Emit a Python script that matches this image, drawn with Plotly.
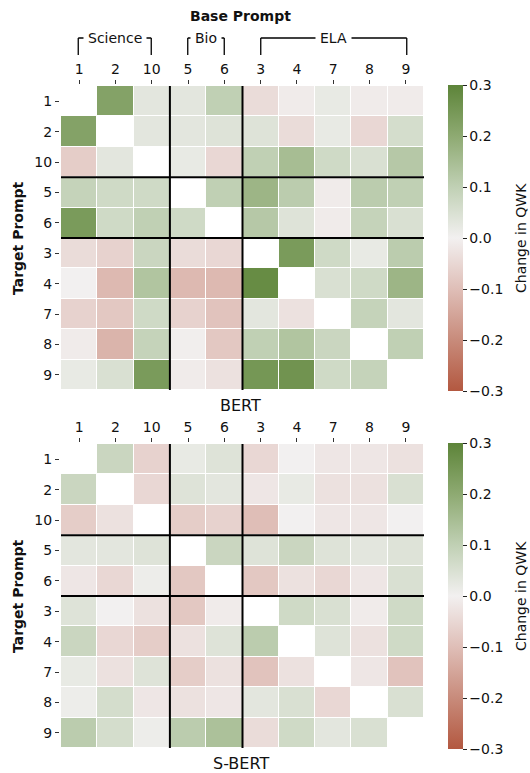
import plotly.graph_objects as go
import numpy as np

W, H = 530, 773
prompts = ["1", "2", "10", "5", "6", "3", "4", "7", "8", "9"]
groups = [("Science", "1", "10"), ("Bio", "5", "6"), ("ELA", "3", "9")]
group_breaks = [3, 5]  # index where new group starts

nan = None
bert = [
    [nan, 0.22, 0.03, 0.03, 0.10, -0.04, -0.01, 0.02, -0.01, -0.01],
    [0.22, nan, 0.03, 0.03, 0.04, 0.04, -0.04, 0.02, -0.05, 0.06],
    [-0.07, 0.03, nan, 0.02, -0.05, 0.10, 0.15, 0.07, 0.05, 0.12],
    [0.09, 0.07, 0.07, nan, 0.10, 0.17, 0.11, -0.01, 0.11, 0.10],
    [0.24, 0.07, 0.10, 0.07, nan, 0.12, 0.04, -0.01, 0.09, 0.05],
    [-0.04, -0.06, 0.08, -0.04, -0.05, nan, 0.24, 0.07, 0.02, 0.11],
    [0.00, -0.11, 0.13, -0.11, -0.11, 0.28, nan, 0.05, 0.07, 0.17],
    [-0.06, -0.08, 0.07, -0.06, -0.09, 0.03, -0.03, nan, 0.09, 0.03],
    [-0.01, -0.12, 0.09, -0.005, -0.08, 0.10, 0.13, 0.08, nan, 0.10],
    [0.02, 0.05, 0.24, -0.01, -0.03, 0.25, 0.26, 0.07, 0.09, nan],
]
sbert = [
    [nan, 0.08, -0.06, 0.02, 0.04, -0.05, 0.00, -0.02, -0.02, -0.03],
    [0.08, nan, -0.05, 0.04, 0.03, -0.02, 0.02, -0.03, -0.03, 0.05],
    [-0.07, -0.03, nan, -0.07, -0.06, -0.10, 0.00, -0.02, -0.02, 0.00],
    [0.03, 0.03, 0.04, nan, 0.08, 0.04, 0.08, 0.04, 0.03, 0.04],
    [-0.02, -0.05, 0.01, -0.08, nan, -0.08, -0.03, -0.05, -0.02, 0.05],
    [0.04, 0.00, -0.03, -0.08, -0.01, nan, 0.07, 0.05, -0.01, 0.07],
    [0.08, -0.05, -0.07, -0.03, 0.04, 0.11, nan, 0.04, -0.03, 0.07],
    [0.02, -0.03, 0.04, -0.07, -0.03, -0.09, -0.03, nan, -0.02, -0.09],
    [0.01, 0.06, -0.02, -0.03, -0.02, 0.03, 0.05, -0.05, nan, 0.05],
    [0.11, 0.06, 0.01, 0.11, 0.14, -0.04, 0.07, 0.03, 0.05, nan],
]
cbar_ticks = [0.3, 0.2, 0.1, 0.0, -0.1, -0.2, -0.3]

colorscale = [
    [0.0, "rgb(179,88,64)"],
    [0.167, "rgb(200,139,123)"],
    [0.333, "rgb(223,190,183)"],
    [0.5, "rgb(242,240,240)"],
    [0.667, "rgb(192,208,180)"],
    [0.833, "rgb(142,170,114)"],
    [1.0, "rgb(93,132,57)"],
]

def px(x):
    return x / W

def py(y):
    return 1 - y / H

FONT = "DejaVu Sans"
TXT = "#111"
fig = go.Figure()

panels = [
    (bert, "BERT", 85, 391, "x", "y"),
    (sbert, "S-BERT", 443, 749, "x2", "y2"),
]
x0p, x1p = 60, 425

def fmt(v):
    s = f"{abs(v):.1f}"
    return ("\u2212" + s) if v < 0 else s

def note(text, x, y, size=14, angle=0, **kw):
    fig.add_annotation(text=text, x=px(x), y=py(y), xref="paper", yref="paper",
                       showarrow=False, xanchor="center", yanchor="middle",
                       textangle=angle, font=dict(family=FONT, size=size, color=TXT),
                       **kw)

for i, (z, name, top, bot, xa, ya) in enumerate(panels):
    fig.add_trace(go.Heatmap(
        z=np.array(z, dtype=float), x=prompts, y=prompts,
        xaxis=xa, yaxis=ya, zmin=-0.3, zmax=0.3, zmid=0,
        colorscale=colorscale, xgap=1, ygap=1, hoverongaps=False,
        colorbar=dict(
            x=px(448), xanchor="left", xpad=0, ypad=0,
            y=py((top + bot) / 2), yanchor="middle",
            len=(bot - top) / H, thickness=15, outlinewidth=0,
            tickvals=cbar_ticks, ticktext=[fmt(v) for v in cbar_ticks],
            ticks="outside", ticklen=4, tickwidth=1, tickcolor="#222",
            tickfont=dict(family=FONT, size=14, color=TXT),
        ),
    ))
    sfx = "" if i == 0 else "2"
    fig.update_layout(**{
        f"xaxis{sfx}": dict(
            domain=[px(x0p), px(x1p)], anchor=ya, type="category",
            categoryorder="array", categoryarray=prompts, side="top",
            ticks="outside", ticklen=4, tickcolor="#333", showgrid=False,
            zeroline=False, showline=False, automargin=False,
            tickfont=dict(family=FONT, size=14, color=TXT),
        ),
        f"yaxis{sfx}": dict(
            domain=[py(bot), py(top)], anchor=xa, type="category",
            categoryorder="array", categoryarray=prompts, autorange="reversed",
            ticks="outside", ticklen=4, tickcolor="#333", showgrid=False,
            zeroline=False, showline=False, automargin=False,
            tickfont=dict(family=FONT, size=14, color=TXT),
        ),
    })
    # group separator lines
    for b in group_breaks:
        pos = b - 0.5
        fig.add_shape(type="line", xref=xa, yref=ya, x0=pos, x1=pos,
                      y0=-0.5, y1=len(prompts) - 0.5,
                      line=dict(color="black", width=2), layer="above")
        fig.add_shape(type="line", xref=xa, yref=ya, y0=pos, y1=pos,
                      x0=-0.5, x1=len(prompts) - 0.5,
                      line=dict(color="black", width=2), layer="above")
    note(name, (x0p + x1p) / 2 - 2, bot + 14, size=16)
    note("<b>Target Prompt</b>", 18, (top + bot) / 2, size=14, angle=-90)
    note("Change in QWK", 521, (top + bot) / 2, size=14, angle=-90)

note("<b>Base Prompt</b>", 240, 16, size=14)

# group brackets on top axis
cw = (x1p - x0p) / len(prompts)
for gname, a, b in groups:
    xa_ = x0p + cw * (prompts.index(a) + 0.5)
    xb_ = x0p + cw * (prompts.index(b) + 0.5)
    for xx in (xa_, xb_):
        fig.add_shape(type="line", xref="paper", yref="paper",
                      x0=px(xx), x1=px(xx), y0=py(38), y1=py(55),
                      line=dict(color="black", width=1.3))
    fig.add_shape(type="line", xref="paper", yref="paper",
                  x0=px(xa_), x1=px(xb_), y0=py(38), y1=py(38),
                  line=dict(color="black", width=1.3))
    note(gname, (xa_ + xb_) / 2, 38, size=14, bgcolor="white", borderpad=4)

fig.update_layout(
    width=W, height=H, margin=dict(l=0, r=0, t=0, b=0, autoexpand=False),
    paper_bgcolor="white", plot_bgcolor="white", showlegend=False,
)
fig.write_html("out.html")
